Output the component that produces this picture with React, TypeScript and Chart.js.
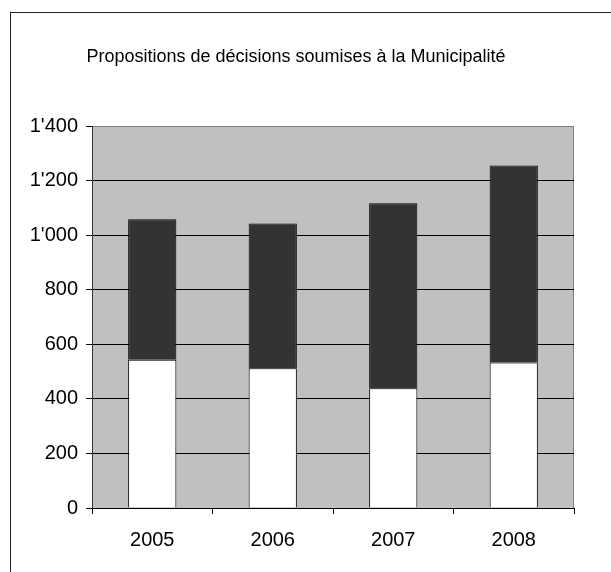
import React, { useEffect, useRef } from "react";
import { Chart, registerables } from "chart.js";

Chart.register(...registerables);

const years = ["2005", "2006", "2007", "2008"];
const lowerValues = [543, 512, 439, 533];
const upperValues = [515, 531, 678, 722];
const yTicks = [0, 200, 400, 600, 800, 1000, 1200, 1400];
const titleText = "Propositions de décisions soumises à la Municipalité";

const FONT = "'Liberation Sans', Arial, sans-serif";

function fmt(v: number): string {
  const s = String(Math.round(v));
  return s.replace(/\B(?=(\d{3})+(?!\d))/g, "'");
}

const plotBg = {
  id: "plotBg",
  beforeDraw(chart: any) {
    const { ctx, chartArea } = chart;
    if (!chartArea) return;
    ctx.save();
    ctx.fillStyle = "#c0c0c0";
    ctx.fillRect(chartArea.left, chartArea.top, chartArea.right - chartArea.left, chartArea.bottom - chartArea.top);
    ctx.strokeStyle = "#808080";
    ctx.lineWidth = 1;
    ctx.beginPath();
    ctx.moveTo(Math.round(chartArea.right) - 0.5, chartArea.top);
    ctx.lineTo(Math.round(chartArea.right) - 0.5, chartArea.bottom);
    ctx.stroke();
    ctx.restore();
  },
};

export default function App() {
  const ref = useRef<HTMLCanvasElement | null>(null);

  useEffect(() => {
    if (!ref.current) return;
    const chart = new Chart(ref.current, {
      type: "bar",
      data: {
        labels: years,
        datasets: [
          {
            label: "a",
            data: lowerValues,
            backgroundColor: "#ffffff",
            borderColor: "#000000",
            borderWidth: 1,
            categoryPercentage: 1,
            barPercentage: 0.4,
          },
          {
            label: "b",
            data: upperValues,
            backgroundColor: "#333333",
            borderColor: "#000000",
            borderWidth: 1,
            categoryPercentage: 1,
            barPercentage: 0.4,
          },
        ],
      },
      options: {
        responsive: false,
        animation: false,
        layout: { padding: { left: 18, right: 37, top: 0, bottom: 0 } },
        plugins: {
          legend: { display: false },
          tooltip: { enabled: false },
          title: {
            display: true,
            text: titleText,
            color: "#000",
            font: { family: FONT, size: 18, weight: "normal" },
            padding: { top: 46, bottom: 58.4 },
          },
        },
        scales: {
          x: {
            stacked: true,
            afterFit: (s: any) => {
              s.height = 64;
            },
            grid: {
              offset: true,
              drawOnChartArea: false,
              drawTicks: true,
              tickLength: 6,
              color: "#000",
            },
            border: { display: true, color: "#000", width: 1 },
            ticks: {
              color: "#000",
              padding: 14,
              font: { family: FONT, size: 20 },
            },
          },
          y: {
            stacked: true,
            min: 0,
            max: 1400,
            afterFit: (s: any) => {
              s.width = 74;
            },
            afterBuildTicks: (s: any) => {
              s.ticks = yTicks.map((v) => ({ value: v }));
            },
            grid: {
              color: (c: any) => (c.tick && c.tick.value === 1400 ? "#808080" : "#000"),
              tickColor: "#000",
              drawTicks: true,
              tickLength: 6,
              lineWidth: 1,
            },
            border: { display: true, color: "#333", width: 1 },
            ticks: {
              color: "#000",
              padding: 8,
              font: { family: FONT, size: 20 },
              callback: (v: any) => fmt(Number(v)),
            },
          },
        },
      },
      plugins: [plotBg],
    } as any);
    return () => chart.destroy();
  }, []);

  return (
    <div
      style={{
        position: "fixed",
        left: 0,
        top: 0,
        width: 611,
        height: 572,
        overflow: "hidden",
        background: "#fff",
      }}
    >
      <div
        style={{
          position: "absolute",
          left: 10,
          top: 12,
          width: 700,
          height: 700,
          border: "1px solid #222",
        }}
      />
      <canvas
        ref={ref}
        width={611}
        height={572}
        style={{ position: "absolute", left: 0, top: 0, width: 611, height: 572 }}
      />
    </div>
  );
}
